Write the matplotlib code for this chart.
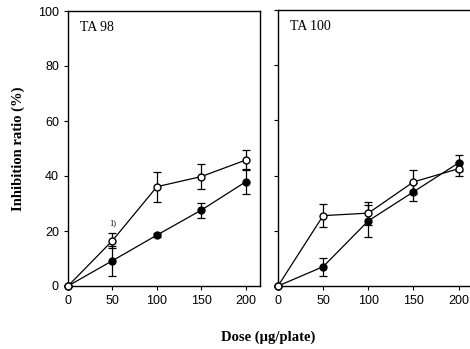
import matplotlib
matplotlib.use("Agg")
import matplotlib.pyplot as plt

# dose levels (ug/plate)
doses = [0, 50, 100, 150, 200]

# TA 98
ta98_open = [0, 16.5, 36.1, 39.8, 45.8]
ta98_open_err = [0, 2.7, 5.4, 4.6, 3.5]
ta98_filled = [0, 9.2, 18.5, 27.6, 37.9]
ta98_filled_err = [0, 5.5, 0.8, 2.7, 4.5]

# TA 100
ta100_open = [0, 25.5, 26.4, 37.7, 42.5]
ta100_open_err = [0, 4.3, 4.2, 4.5, 2.5]
ta100_filled = [0, 7.0, 23.6, 34.1, 44.6]
ta100_filled_err = [0, 3.3, 5.8, 3.4, 3.0]

panels = [
    ("TA 98", ta98_open, ta98_open_err, ta98_filled, ta98_filled_err),
    ("TA 100", ta100_open, ta100_open_err, ta100_filled, ta100_filled_err),
]

tick_font = "Liberation Sans"
serif_font = "Liberation Serif"

fig = plt.figure(figsize=(4.7, 3.49), dpi=100)
ax1 = fig.add_axes([68 / 470, 63 / 349, 192 / 470, 275 / 349])
ax2 = fig.add_axes([278 / 470, 63 / 349, 195 / 470, 276 / 349])

for ax, (name, op, op_err, fi, fi_err) in zip([ax1, ax2], panels):
    ax.errorbar(doses, fi, yerr=fi_err, color="black", marker="o",
                markersize=5, markerfacecolor="black", markeredgecolor="black",
                linewidth=0.9, elinewidth=0.9, capsize=3, capthick=0.9,
                clip_on=False, zorder=3)
    ax.errorbar(doses, op, yerr=op_err, color="black", marker="o",
                markersize=5, markerfacecolor="white", markeredgecolor="black",
                linewidth=0.9, elinewidth=0.9, capsize=3, capthick=0.9,
                clip_on=False, zorder=4)
    ax.set_xlim(0, 216)
    ax.set_ylim(0, 100)
    ax.set_xticks(doses)
    ax.set_yticks([0, 20, 40, 60, 80, 100])
    ax.tick_params(direction="out", length=3, width=0.8, labelsize=9)
    for lab in ax.get_xticklabels() + ax.get_yticklabels():
        lab.set_fontfamily(tick_font)
    for sp in ax.spines.values():
        sp.set_linewidth(1.0)
    ax.text(0.06, 0.965, name, transform=ax.transAxes, ha="left", va="top",
            fontsize=10, family=serif_font)

ax2.tick_params(labelleft=False)
ax2.spines["right"].set_visible(False)

# footnote mark above the TA 98 open point at 50
ax1.text(doses[1], ta98_open[1] + 5.0, "1)", ha="center", va="bottom",
         fontsize=6, family=serif_font)

ax1.set_ylabel("Inhibition ratio (%)", fontsize=10.5, fontweight="bold",
               family=serif_font, labelpad=9)
fig.text(268 / 470, 1 - 337 / 349, "Dose (\u00b5g/plate)", ha="center",
         va="center", fontsize=10.5, fontweight="bold", family=serif_font)

fig.savefig("out.png", dpi=100)
